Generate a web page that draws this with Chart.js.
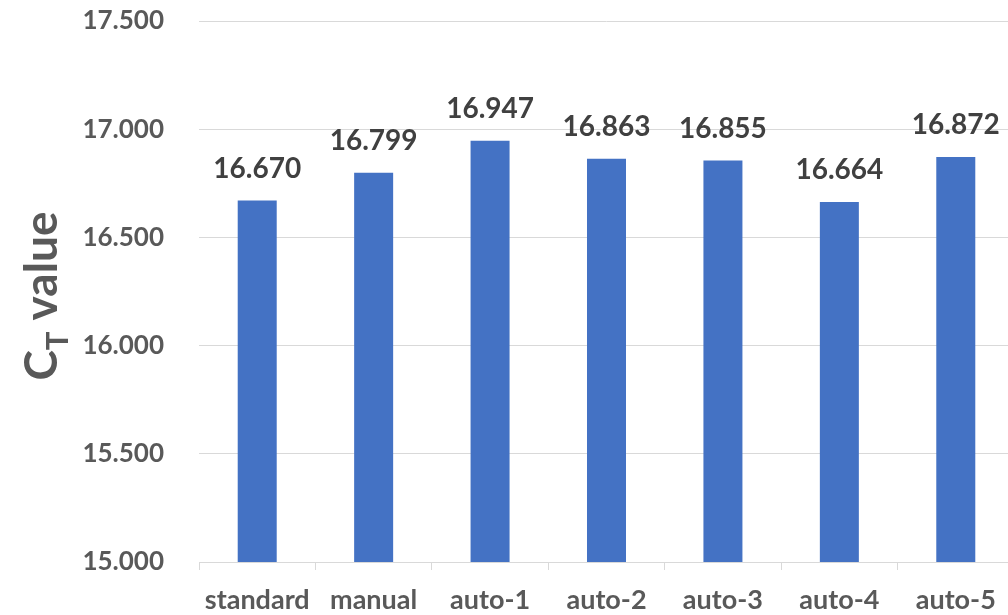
<!DOCTYPE html>
<html>
<head>
<meta charset="utf-8">
<script src="https://cdn.jsdelivr.net/npm/chart.js@4.4.1/dist/chart.umd.min.js"></script>
<style>
  html, body { margin: 0; padding: 0; background: #ffffff; overflow: hidden; }
  #wrap { position: relative; width: 1014px; height: 615px; }
</style>
</head>
<body>
<div id="wrap"><canvas id="chart" width="1014" height="615"></canvas></div>
<script>
// Samples and their measured CT values
const categories = ['standard', 'manual', 'auto-1', 'auto-2', 'auto-3', 'auto-4', 'auto-5'];
const ctValues = [16.670, 16.799, 16.947, 16.863, 16.855, 16.664, 16.872];
const yTicks = [15.0, 15.5, 16.0, 16.5, 17.0, 17.5];

const FONT = "Lato, 'Open Sans', 'Liberation Sans', sans-serif";
const AXIS_GREY = '#595959';
const LABEL_GREY = '#404040';
const GRID_GREY = '#d9d9d9';
const BAR_BLUE = '#4472c4';

// Value labels above each bar
const valueLabels = {
  id: 'valueLabels',
  afterDatasetsDraw(chart) {
    const ctx = chart.ctx;
    const meta = chart.getDatasetMeta(0);
    const data = chart.data.datasets[0].data;
    ctx.save();
    ctx.font = 'bold 28px ' + FONT;
    ctx.fillStyle = LABEL_GREY;
    ctx.textAlign = 'center';
    ctx.textBaseline = 'alphabetic';
    meta.data.forEach((bar, i) => {
      ctx.fillText(data[i].toFixed(3), bar.x, bar.y - 23);
    });
    ctx.restore();
  }
};

// Rotated y-axis title "C_T value" with a subscript T
const yTitle = {
  id: 'yTitle',
  afterDraw(chart) {
    const ctx = chart.ctx;
    const cx = 57, cy = 296;
    const bigFont = 'bold 46px ' + FONT;
    const subFont = 'bold 31px ' + FONT;
    ctx.save();
    ctx.fillStyle = AXIS_GREY;
    ctx.textBaseline = 'alphabetic';
    ctx.textAlign = 'left';
    ctx.font = bigFont;
    const wC = ctx.measureText('C').width;
    const wRest = ctx.measureText(' value').width;
    ctx.font = subFont;
    const wT = ctx.measureText('T').width;
    const total = wC + wT + wRest;
    ctx.translate(cx, cy);
    ctx.rotate(-Math.PI / 2);
    let x = -total / 2;
    ctx.font = bigFont;
    ctx.fillText('C', x, 0);
    x += wC;
    ctx.font = subFont;
    ctx.fillText('T', x, 11);
    x += wT;
    ctx.font = bigFont;
    ctx.fillText(' value', x, 0);
    ctx.restore();
  }
};

new Chart(document.getElementById('chart'), {
  type: 'bar',
  data: {
    labels: categories,
    datasets: [{
      data: ctValues,
      backgroundColor: BAR_BLUE,
      borderWidth: 0,
      categoryPercentage: 1.0,
      barPercentage: 0.335
    }]
  },
  options: {
    responsive: false,
    animation: false,
    events: [],
    layout: { padding: { top: 21, right: 0, bottom: 0, left: 0 } },
    plugins: {
      legend: { display: false },
      tooltip: { enabled: false },
      title: { display: false }
    },
    scales: {
      y: {
        min: 15,
        max: 17.5,
        afterBuildTicks(scale) {
          scale.ticks = yTicks.map(v => ({ value: v }));
        },
        afterFit(scale) {
          scale.width = 199;
          scale.paddingTop = 0;
          scale.paddingBottom = 0;
        },
        grid: { color: GRID_GREY, lineWidth: 1, drawTicks: false },
        border: { display: false },
        ticks: {
          padding: 35,
          color: AXIS_GREY,
          font: { family: FONT, size: 26, weight: 'bold' },
          callback: v => Number(v).toFixed(3)
        }
      },
      x: {
        afterFit(scale) {
          scale.height = 53;
          scale.paddingLeft = 0;
          scale.paddingRight = 0;
        },
        grid: {
          offset: true,
          drawOnChartArea: false,
          drawTicks: true,
          tickLength: 8,
          color: GRID_GREY,
          lineWidth: 1
        },
        border: { display: true, color: GRID_GREY, width: 1 },
        ticks: {
          padding: 14,
          maxRotation: 0,
          autoSkip: false,
          color: AXIS_GREY,
          font: { family: FONT, size: 27, weight: 'bold' }
        }
      }
    }
  },
  plugins: [valueLabels, yTitle]
});
</script>
</body>
</html>
